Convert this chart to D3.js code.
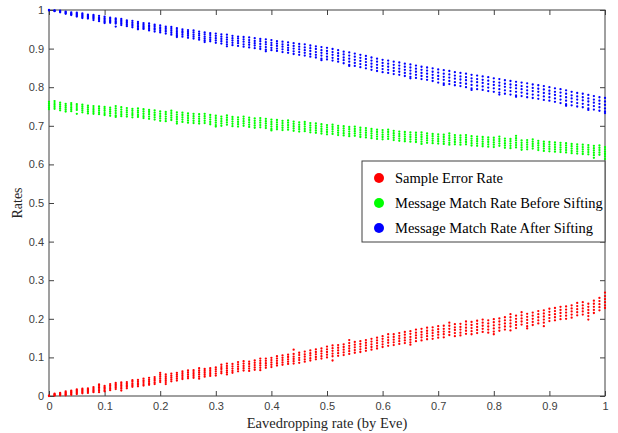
<!DOCTYPE html>
<html>
<head>
<meta charset="utf-8">
<script src="https://cdn.jsdelivr.net/npm/d3@7"></script>
<style>
  body { margin: 0; background: #fff; }
  .tick text { font-family: "Liberation Sans", Arial, sans-serif; font-size: 11px; fill: #404040; }
  .tick line { stroke: #404040; }
</style>
</head>
<body>
<script>
// eavesdropping rates (x columns)
var rates = [0.00,0.01,0.02,0.03,0.04,0.05,0.06,0.07,0.08,0.09,0.10,0.11,0.12,0.13,0.14,0.15,0.16,0.17,0.18,0.19,
  0.20,0.21,0.22,0.23,0.24,0.25,0.26,0.27,0.28,0.29,0.30,0.31,0.32,0.33,0.34,0.35,0.36,0.37,0.38,0.39,
  0.40,0.41,0.42,0.43,0.44,0.45,0.46,0.47,0.48,0.49,0.50,0.51,0.52,0.53,0.54,0.55,0.56,0.57,0.58,0.59,
  0.60,0.61,0.62,0.63,0.64,0.65,0.66,0.67,0.68,0.69,0.70,0.71,0.72,0.73,0.74,0.75,0.76,0.77,0.78,0.79,
  0.80,0.81,0.82,0.83,0.84,0.85,0.86,0.87,0.88,0.89,0.90,0.91,0.92,0.93,0.94,0.95,0.96,0.97,0.98,0.99,1.00];

// Sample Error Rate, one list of runs per column
var errorRates = [
  [0.000,0.001],[0.006,0.004,0.002,0.001],[0.008,0.006,0.004,0.002],[0.012,0.009,0.007,0.004,0.002],
  [0.014,0.011,0.009,0.006,0.003],[0.017,0.014,0.011,0.008,0.005],[0.019,0.016,0.013,0.010,0.007],
  [0.020,0.017,0.014,0.011,0.008],[0.023,0.020,0.016,0.013,0.010],[0.030,0.026,0.022,0.018,0.014,0.010],
  [0.026,0.022,0.019,0.015,0.012],[0.031,0.027,0.023,0.019,0.015],[0.034,0.030,0.026,0.022,0.018],
  [0.035,0.031,0.027,0.023,0.019,0.014],[0.036,0.032,0.028,0.024,0.020],[0.041,0.037,0.032,0.028,0.024],
  [0.042,0.038,0.033,0.029,0.025],[0.045,0.040,0.036,0.031,0.027],[0.047,0.042,0.038,0.033,0.029],
  [0.049,0.044,0.040,0.035,0.031],[0.060,0.055,0.050,0.045,0.040,0.036],[0.056,0.051,0.046,0.041,0.036,0.031],
  [0.058,0.053,0.048,0.043,0.038],[0.060,0.055,0.050,0.045,0.040],[0.064,0.059,0.054,0.049,0.044],
  [0.066,0.061,0.056,0.051,0.046],[0.067,0.062,0.057,0.052,0.047],[0.072,0.066,0.061,0.056,0.050,0.045],
  [0.070,0.065,0.060,0.055,0.050],[0.072,0.067,0.062,0.057,0.052],[0.074,0.069,0.064,0.058,0.053],
  [0.081,0.075,0.070,0.064,0.059],[0.084,0.078,0.072,0.066,0.061,0.056],[0.083,0.077,0.071,0.065,0.060],
  [0.088,0.082,0.076,0.070,0.064],[0.090,0.084,0.078,0.072,0.066],[0.089,0.083,0.077,0.071,0.065],
  [0.092,0.086,0.080,0.074,0.068],[0.097,0.091,0.085,0.079,0.073,0.067],[0.097,0.091,0.085,0.079,0.073],
  [0.099,0.093,0.087,0.081,0.075],[0.103,0.097,0.091,0.085,0.079],[0.105,0.099,0.093,0.087,0.081],
  [0.107,0.101,0.095,0.089,0.083],[0.120,0.109,0.102,0.096,0.090,0.084],[0.112,0.106,0.099,0.093,0.086],
  [0.115,0.108,0.102,0.095,0.089],[0.118,0.111,0.105,0.098,0.092],[0.121,0.114,0.108,0.101,0.095],
  [0.123,0.116,0.110,0.103,0.097],[0.128,0.121,0.114,0.107,0.100],[0.131,0.124,0.117,0.110,0.103,0.092],
  [0.132,0.125,0.118,0.111,0.104],[0.134,0.127,0.120,0.113,0.106],[0.145,0.137,0.130,0.123,0.116,0.109],
  [0.140,0.133,0.126,0.119,0.112],[0.142,0.135,0.128,0.121,0.114],[0.145,0.138,0.131,0.124,0.117],
  [0.148,0.141,0.134,0.127,0.120],[0.151,0.144,0.137,0.130,0.123],[0.155,0.148,0.141,0.134,0.127],
  [0.160,0.152,0.145,0.138,0.130],[0.160,0.153,0.146,0.139,0.132],[0.163,0.156,0.149,0.142,0.135],
  [0.166,0.159,0.151,0.144,0.137],[0.168,0.161,0.153,0.146,0.139,0.133],[0.172,0.164,0.157,0.150,0.142],
  [0.174,0.166,0.159,0.152,0.144],[0.177,0.169,0.162,0.155,0.147],[0.178,0.170,0.163,0.156,0.148],
  [0.181,0.173,0.166,0.159,0.151],[0.182,0.174,0.167,0.160,0.152],[0.190,0.182,0.174,0.166,0.158],
  [0.186,0.178,0.171,0.163,0.155],[0.187,0.179,0.172,0.164,0.157],[0.193,0.185,0.177,0.169,0.161],
  [0.192,0.184,0.176,0.168,0.160],[0.195,0.187,0.179,0.171,0.163],[0.198,0.190,0.182,0.174,0.166],
  [0.196,0.188,0.180,0.172,0.164],[0.199,0.191,0.183,0.175,0.167,0.160],[0.201,0.193,0.185,0.177,0.169],
  [0.204,0.196,0.188,0.180,0.172],[0.212,0.204,0.196,0.188,0.180,0.170],[0.208,0.200,0.192,0.184,0.176],
  [0.217,0.209,0.201,0.193,0.185],[0.213,0.205,0.197,0.189,0.181,0.175],[0.216,0.208,0.200,0.192,0.184],
  [0.220,0.212,0.204,0.196,0.188],[0.222,0.214,0.206,0.198,0.190,0.181],[0.226,0.218,0.210,0.202,0.194],
  [0.228,0.220,0.212,0.204,0.196],[0.231,0.223,0.215,0.207,0.199],[0.232,0.224,0.216,0.208,0.200],
  [0.235,0.227,0.219,0.211,0.203],[0.241,0.233,0.225,0.217,0.209],[0.243,0.235,0.227,0.219,0.211],
  [0.239,0.231,0.223,0.215,0.207,0.198],[0.247,0.239,0.231,0.223,0.215],[0.254,0.246,0.238,0.230,0.222],
  [0.268,0.259,0.251,0.243,0.235,0.228]];

// Message Match Rate Before Sifting
var beforeRates = [
  [0.762,0.757,0.752,0.747,0.743],[0.764,0.759,0.754,0.749,0.744],[0.760,0.755,0.750,0.745,0.740],
  [0.757,0.752,0.747,0.742,0.737],[0.759,0.754,0.748,0.743,0.738],[0.756,0.751,0.746,0.741,0.731],
  [0.755,0.750,0.745,0.740,0.735],[0.752,0.747,0.742,0.737,0.732],[0.751,0.746,0.741,0.736,0.731],
  [0.750,0.745,0.740,0.735,0.730],[0.749,0.744,0.739,0.733,0.728],[0.747,0.742,0.737,0.732,0.726],
  [0.751,0.745,0.739,0.733,0.727,0.723],[0.748,0.742,0.736,0.730,0.725],[0.746,0.740,0.735,0.729,0.724],
  [0.744,0.739,0.733,0.728,0.722],[0.745,0.739,0.734,0.728,0.723],[0.743,0.737,0.731,0.725,0.720],
  [0.741,0.736,0.730,0.724,0.718],[0.740,0.734,0.728,0.722,0.716],[0.737,0.731,0.725,0.719,0.713],
  [0.736,0.730,0.724,0.718,0.712],[0.739,0.733,0.727,0.721,0.715],[0.735,0.729,0.723,0.717,0.711,0.706],
  [0.734,0.728,0.722,0.716,0.710],[0.732,0.726,0.720,0.714,0.708],[0.731,0.725,0.719,0.713,0.707],
  [0.730,0.724,0.718,0.712,0.706],[0.731,0.725,0.719,0.713,0.707],[0.728,0.722,0.716,0.710,0.704],
  [0.726,0.720,0.714,0.708,0.702,0.698],[0.724,0.718,0.712,0.706,0.700],[0.727,0.721,0.715,0.709,0.703],
  [0.723,0.717,0.711,0.705,0.699],[0.722,0.716,0.710,0.704,0.698],[0.724,0.718,0.712,0.706,0.700],
  [0.721,0.715,0.709,0.703,0.697],[0.719,0.713,0.707,0.701,0.695],[0.720,0.714,0.708,0.702,0.696],
  [0.718,0.712,0.706,0.700,0.694],[0.716,0.710,0.704,0.698,0.692,0.688],[0.715,0.709,0.703,0.697,0.691],
  [0.713,0.707,0.701,0.695,0.689],[0.714,0.708,0.702,0.696,0.690],[0.711,0.705,0.699,0.693,0.687],
  [0.709,0.703,0.697,0.691,0.685],[0.710,0.704,0.698,0.692,0.686],[0.707,0.701,0.695,0.689,0.683],
  [0.706,0.700,0.694,0.688,0.682],[0.704,0.698,0.692,0.686,0.680],[0.702,0.696,0.690,0.684,0.678],
  [0.703,0.697,0.691,0.685,0.679],[0.700,0.694,0.688,0.682,0.676],[0.699,0.693,0.687,0.681,0.675],
  [0.697,0.691,0.685,0.679,0.673],[0.698,0.692,0.686,0.680,0.674],[0.695,0.689,0.683,0.677,0.671],
  [0.694,0.688,0.682,0.676,0.670],[0.692,0.686,0.680,0.674,0.668],[0.690,0.684,0.678,0.672,0.666],
  [0.689,0.683,0.677,0.671,0.665],[0.690,0.684,0.678,0.672,0.666],[0.687,0.681,0.675,0.669,0.663],
  [0.685,0.679,0.673,0.667,0.661],[0.684,0.678,0.672,0.666,0.660],[0.683,0.677,0.671,0.665,0.659],
  [0.682,0.676,0.670,0.664,0.658],[0.683,0.677,0.671,0.665,0.659,0.653],[0.680,0.674,0.668,0.662,0.656],
  [0.679,0.673,0.667,0.661,0.655],[0.678,0.672,0.666,0.660,0.654],[0.677,0.671,0.665,0.659,0.653],
  [0.680,0.674,0.668,0.662,0.656,0.651],[0.676,0.670,0.664,0.658,0.652],[0.675,0.669,0.663,0.657,0.651],
  [0.676,0.670,0.664,0.658,0.652],[0.673,0.667,0.661,0.655,0.649],[0.672,0.666,0.660,0.654,0.648],
  [0.671,0.665,0.659,0.653,0.647],[0.670,0.664,0.658,0.652,0.646],[0.669,0.663,0.657,0.651,0.645],
  [0.672,0.666,0.660,0.654,0.648],[0.667,0.661,0.655,0.649,0.643],[0.666,0.660,0.654,0.648,0.642],
  [0.674,0.668,0.662,0.656,0.650,0.644],[0.662,0.656,0.650,0.644,0.638],[0.663,0.657,0.651,0.645,0.639],
  [0.665,0.659,0.653,0.647,0.641],[0.661,0.655,0.649,0.643,0.637],[0.659,0.653,0.647,0.641,0.635],
  [0.658,0.652,0.646,0.640,0.634],[0.657,0.651,0.645,0.639,0.633],[0.656,0.650,0.644,0.638,0.632],
  [0.655,0.649,0.643,0.637,0.631],[0.653,0.647,0.641,0.635,0.629],[0.652,0.646,0.640,0.634,0.628],
  [0.651,0.645,0.639,0.633,0.627],[0.650,0.644,0.638,0.632,0.626],[0.648,0.642,0.636,0.630,0.624,0.617],
  [0.649,0.643,0.637,0.631,0.625],[0.645,0.639,0.633,0.627,0.621,0.614]];

// Message Match Rate After Sifting
var afterRates = [
  [1.000,0.999],[0.999,0.998,0.997],[0.998,0.996,0.994],[0.996,0.994,0.992,0.990],
  [0.994,0.991,0.989,0.987],[0.993,0.990,0.988,0.985,0.983],[0.991,0.988,0.985,0.982,0.979],
  [0.988,0.985,0.983,0.980,0.978],[0.987,0.984,0.981,0.978,0.974],[0.985,0.981,0.978,0.975,0.971],
  [0.983,0.979,0.976,0.972,0.969,0.966],[0.980,0.977,0.973,0.970,0.967],[0.978,0.975,0.971,0.968,0.965,0.957],
  [0.977,0.973,0.969,0.965,0.961],[0.973,0.969,0.966,0.962,0.958],[0.972,0.967,0.963,0.959,0.955],
  [0.969,0.965,0.961,0.957,0.953,0.950],[0.966,0.962,0.958,0.954,0.951],[0.965,0.960,0.956,0.951,0.947],
  [0.962,0.958,0.953,0.949,0.944],[0.960,0.955,0.951,0.946,0.942],[0.957,0.953,0.948,0.944,0.939],
  [0.956,0.951,0.946,0.941,0.936],[0.953,0.948,0.943,0.938,0.934,0.930],[0.950,0.945,0.941,0.936,0.931],
  [0.948,0.943,0.938,0.933,0.928],[0.947,0.942,0.936,0.931,0.926],[0.944,0.939,0.934,0.928,0.923],
  [0.942,0.937,0.931,0.926,0.921,0.917],[0.940,0.935,0.929,0.924,0.919],[0.939,0.933,0.927,0.921,0.915],
  [0.937,0.931,0.925,0.919,0.913],[0.936,0.929,0.923,0.917,0.911,0.906],[0.933,0.927,0.921,0.915,0.909],
  [0.931,0.926,0.920,0.914,0.907],[0.930,0.924,0.918,0.911,0.905],[0.929,0.922,0.916,0.910,0.903],
  [0.927,0.920,0.914,0.908,0.901],[0.925,0.919,0.912,0.905,0.899],[0.924,0.917,0.911,0.904,0.897,0.893],
  [0.922,0.915,0.909,0.902,0.896],[0.919,0.913,0.907,0.900,0.894],[0.918,0.911,0.905,0.898,0.891],
  [0.916,0.909,0.902,0.896,0.889],[0.914,0.907,0.900,0.893,0.886],[0.912,0.905,0.898,0.891,0.884],
  [0.911,0.903,0.896,0.889,0.882],[0.908,0.901,0.894,0.886,0.879],[0.906,0.899,0.891,0.884,0.877],
  [0.904,0.896,0.889,0.882,0.874,0.870],[0.902,0.894,0.887,0.879,0.872],[0.899,0.891,0.884,0.876,0.869],
  [0.896,0.888,0.881,0.873,0.866],[0.892,0.885,0.877,0.870,0.862],[0.890,0.882,0.874,0.866,0.858,0.855],
  [0.887,0.879,0.871,0.863,0.855],[0.884,0.876,0.868,0.860,0.852],[0.881,0.873,0.865,0.857,0.849],
  [0.877,0.869,0.861,0.853,0.845],[0.874,0.866,0.858,0.850,0.842],[0.871,0.863,0.855,0.847,0.839],
  [0.869,0.861,0.853,0.845,0.837],[0.866,0.858,0.850,0.842,0.834],[0.864,0.856,0.848,0.840,0.832],
  [0.861,0.853,0.845,0.837,0.829],[0.859,0.851,0.843,0.835,0.827,0.823],[0.856,0.848,0.840,0.832,0.824],
  [0.853,0.845,0.837,0.829,0.821],[0.851,0.843,0.835,0.827,0.819],[0.849,0.840,0.832,0.824,0.816],
  [0.846,0.838,0.829,0.821,0.812],[0.844,0.835,0.827,0.819,0.810,0.806],[0.842,0.833,0.825,0.816,0.808],
  [0.839,0.830,0.822,0.813,0.805],[0.837,0.828,0.820,0.811,0.803],[0.835,0.826,0.818,0.809,0.800],
  [0.832,0.823,0.815,0.806,0.797,0.793],[0.830,0.821,0.813,0.804,0.795],[0.828,0.819,0.811,0.802,0.793],
  [0.826,0.817,0.808,0.799,0.790],[0.823,0.814,0.806,0.797,0.788],[0.821,0.812,0.804,0.795,0.786,0.781],
  [0.818,0.809,0.801,0.792,0.783],[0.816,0.807,0.799,0.790,0.781],[0.814,0.805,0.797,0.788,0.779,0.775],
  [0.812,0.803,0.795,0.786,0.777],[0.810,0.801,0.792,0.783,0.774],[0.807,0.798,0.790,0.781,0.772],
  [0.805,0.796,0.788,0.779,0.770],[0.803,0.794,0.785,0.776,0.767],[0.800,0.791,0.783,0.774,0.765],
  [0.797,0.788,0.780,0.771,0.762],[0.795,0.786,0.777,0.768,0.759],[0.792,0.783,0.774,0.765,0.756,0.752],
  [0.788,0.779,0.771,0.762,0.753],[0.785,0.776,0.768,0.759,0.750],[0.783,0.774,0.766,0.757,0.748],
  [0.780,0.771,0.763,0.754,0.745,0.741],[0.777,0.768,0.760,0.751,0.742],[0.774,0.765,0.757,0.748,0.739],
  [0.772,0.763,0.754,0.745,0.737,0.733]];

var seriesNames = ["Sample Error Rate", "Message Match Rate Before Sifting", "Message Match Rate After Sifting"];
var seriesColors = ["#ff0000", "#00ff00", "#0000ff"];
var xTicks = [0, 0.1, 0.2, 0.3, 0.4, 0.5, 0.6, 0.7, 0.8, 0.9, 1];
var yTicks = [0, 0.1, 0.2, 0.3, 0.4, 0.5, 0.6, 0.7, 0.8, 0.9, 1];

var margin = {top: 10, right: 13, bottom: 37, left: 49},
	totalWidth = 618,
	totalHeight = 433,
	dataWidth = totalWidth - margin.left - margin.right,
	dataHeight = totalHeight - margin.top - margin.bottom;

var xScale = d3.scaleLinear().domain([0, 1]).range([0, dataWidth]);
var yScale = d3.scaleLinear().domain([0, 1]).range([dataHeight, 0]);

var svg = d3.select("body").append("svg")
	.attr("width", totalWidth)
	.attr("height", totalHeight);

var g = svg.append("g")
	.attr("transform", "translate(" + margin.left + "," + margin.top + ")");

var fmt = d3.format("~g");

// axes with inward ticks on all four sides
g.append("g")
	.attr("transform", "translate(0," + dataHeight + ")")
	.call(d3.axisBottom(xScale).tickValues(xTicks).tickFormat(fmt).tickSizeInner(-5).tickSizeOuter(0).tickPadding(6));
g.append("g")
	.call(d3.axisLeft(yScale).tickValues(yTicks).tickFormat(fmt).tickSizeInner(-5).tickSizeOuter(0).tickPadding(5));
g.append("g")
	.call(d3.axisTop(xScale).tickValues(xTicks).tickFormat("").tickSizeInner(-5).tickSizeOuter(0));
g.append("g")
	.attr("transform", "translate(" + dataWidth + ",0)")
	.call(d3.axisRight(yScale).tickValues(yTicks).tickFormat("").tickSizeInner(-5).tickSizeOuter(0));
g.selectAll(".domain").remove();

// frame
g.append("rect")
	.attr("width", dataWidth)
	.attr("height", dataHeight)
	.style("fill", "none")
	.style("stroke", "#404040")
	.style("stroke-width", 1);

// points
[errorRates, beforeRates, afterRates].forEach(function(series, i) {
	var pts = [];
	series.forEach(function(col, j) {
		col.forEach(function(v) { pts.push([rates[j], v]); });
	});
	g.append("g")
		.selectAll("circle")
		.data(pts)
		.enter().append("circle")
		.attr("cx", d => xScale(d[0]))
		.attr("cy", d => yScale(d[1]))
		.attr("r", 1.15)
		.style("fill", seriesColors[i]);
});

// axis labels
svg.append("text")
	.attr("x", margin.left + dataWidth / 2)
	.attr("y", 428)
	.attr("text-anchor", "middle")
	.style("font-family", "'Liberation Serif', 'Times New Roman', serif")
	.style("font-size", "14.5px")
	.style("fill", "#262626")
	.text("Eavedropping rate (by Eve)");

svg.append("text")
	.attr("transform", "translate(22," + (margin.top + dataHeight / 2) + ") rotate(-90)")
	.attr("text-anchor", "middle")
	.style("font-family", "'Liberation Serif', 'Times New Roman', serif")
	.style("font-size", "14px")
	.style("fill", "#262626")
	.text("Rates");

// legend
var legend = svg.append("g").attr("transform", "translate(362,161)");
legend.append("rect")
	.attr("width", 243)
	.attr("height", 81)
	.style("fill", "#fff")
	.style("stroke", "#404040");
seriesNames.forEach(function(name, i) {
	legend.append("circle")
		.attr("cx", 17)
		.attr("cy", 17 + i * 25)
		.attr("r", 5)
		.style("fill", seriesColors[i]);
	legend.append("text")
		.attr("x", 33)
		.attr("y", 22 + i * 25)
		.style("font-family", "'Liberation Serif', 'Times New Roman', serif")
		.style("font-size", "14.5px")
		.style("fill", "#000")
		.text(name);
});
</script>
</body>
</html>
